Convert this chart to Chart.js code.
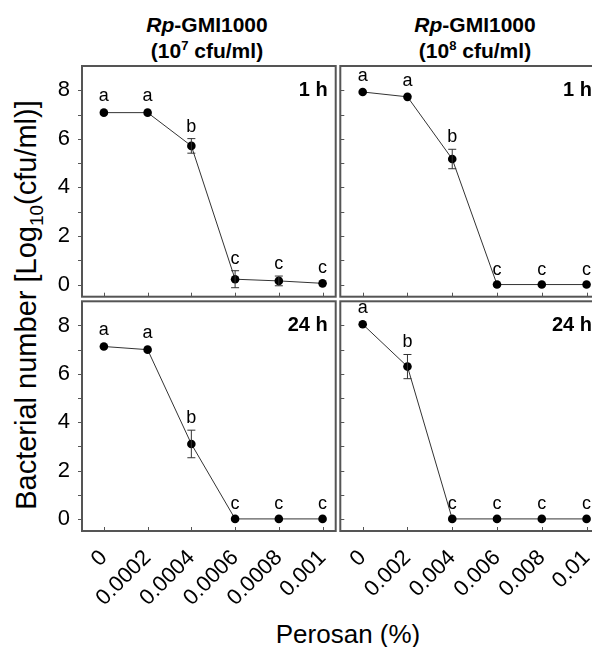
<!DOCTYPE html>
<html>
<head>
<meta charset="utf-8">
<script src="https://cdn.jsdelivr.net/npm/chart.js@4.4.0/dist/chart.umd.min.js"></script>
<style>
html, body { margin: 0; padding: 0; background: #fff; overflow: hidden; }
#fig { position: relative; width: 592px; height: 647px; overflow: hidden; font-family: "Liberation Sans", Arial, sans-serif; color: #000; }
#fig canvas { position: absolute; }
.coltitle { position: absolute; top: 12px; width: 240px; text-align: center; font-weight: bold; font-size: 21px; line-height: 26px; }
.coltitle sup { font-size: 13px; line-height: 0; }
#ytitle { position: absolute; left: -224px; top: 289px; width: 500px; height: 32px; line-height: 32px; font-size: 29px; text-align: center; transform: rotate(-90deg); white-space: nowrap; }
#ytitle sub { font-size: 19px; line-height: 0; }
#xtitle { position: absolute; left: 198px; top: 619px; width: 300px; line-height: 30px; font-size: 26px; text-align: center; }
</style>
</head>
<body>
<div id="fig">
  <div class="coltitle" style="left:87px"><i>Rp</i>-GMI1000<br>(10<sup>7</sup> cfu/ml)</div>
  <div class="coltitle" style="left:355px"><i>Rp</i>-GMI1000<br>(10<sup>8</sup> cfu/ml)</div>
  <div id="ytitle">Bacterial number [Log<sub>10</sub>(cfu/ml)]</div>
  <div id="xtitle">Perosan (%)</div>
  <canvas id="c1" width="340" height="241" style="left:0;top:60px"></canvas>
  <canvas id="c2" width="270" height="241" style="left:336px;top:60px"></canvas>
  <canvas id="c3" width="340" height="350" style="left:0;top:297px"></canvas>
  <canvas id="c4" width="270" height="350" style="left:336px;top:297px"></canvas>
</div>
<script>
// perosan concentrations (%)
const xLabelsLow = ['0', '0.0002', '0.0004', '0.0006', '0.0008', '0.001'];
const xLabelsHigh = ['0', '0.002', '0.004', '0.006', '0.008', '0.01'];
const yTicks = [0, 2, 4, 6, 8];

// log10 cfu/ml, 10^7 inoculum, 1 h
const low1h = [7.08, 7.08, 5.71, 0.22, 0.15, 0.05];
const low1hErr = [0.05, 0.05, 0.3, 0.35, 0.2, 0];
const low1hLetters = ['a', 'a', 'b', 'c', 'c', 'c'];

// 10^8 inoculum, 1 h
const high1h = [7.93, 7.73, 5.17, 0, 0, 0];
const high1hErr = [0.05, 0.05, 0.4, 0, 0, 0];
const high1hLetters = ['a', 'a', 'b', 'c', 'c', 'c'];

// 10^7 inoculum, 24 h
const low24h = [7.13, 7.0, 3.1, 0, 0, 0];
const low24hErr = [0.05, 0.05, 0.57, 0, 0, 0];
const low24hLetters = ['a', 'a', 'b', 'c', 'c', 'c'];

// 10^8 inoculum, 24 h
const high24h = [8.05, 6.3, 0, 0, 0, 0];
const high24hErr = [0.05, 0.5, 0, 0, 0, 0];
const high24hLetters = ['a', 'b', 'c', 'c', 'c', 'c'];

const FONT = '"Liberation Sans", Arial, sans-serif';

// frame, ticks, error bars, letters and time tag
const panelDecor = {
  id: 'panelDecor',
  afterDatasetsDraw(chart, args, o) {
    const { ctx, chartArea: a, scales: { x, y } } = chart;
    const vals = chart.data.datasets[0].data;
    ctx.save();

    // error bars
    ctx.strokeStyle = '#333';
    ctx.lineWidth = 1;
    vals.forEach((p, i) => {
      const e = o.errors[i];
      if (!e || e < 0.1) return;
      const px = x.getPixelForValue(p.x);
      const y1 = y.getPixelForValue(p.y + e), y2 = y.getPixelForValue(p.y - e);
      ctx.beginPath();
      ctx.moveTo(px, y1); ctx.lineTo(px, y2);
      ctx.moveTo(px - 4, y1); ctx.lineTo(px + 4, y1);
      ctx.moveTo(px - 4, y2); ctx.lineTo(px + 4, y2);
      ctx.stroke();
    });

    // significance letters
    ctx.fillStyle = '#000';
    ctx.font = '18px ' + FONT;
    ctx.textAlign = 'center';
    ctx.textBaseline = 'alphabetic';
    vals.forEach((p, i) => {
      const e = o.errors[i];
      const gap = e >= 0.1 ? 7 : 10;
      ctx.fillText(o.letters[i], x.getPixelForValue(p.x), y.getPixelForValue(p.y + e) - gap);
    });

    // time tag
    ctx.font = 'bold 20px ' + FONT;
    ctx.textAlign = 'right';
    ctx.fillText(o.time, a.right - 8, a.top + 30);

    // ticks
    ctx.strokeStyle = '#555';
    ctx.lineWidth = 1;
    ctx.beginPath();
    for (let v = 0; v <= 8; v++) {
      const py = Math.round(y.getPixelForValue(v)) + 0.5;
      if (o.outerTicks) { ctx.moveTo(a.left - 4, py); ctx.lineTo(a.left, py); }
      else { ctx.moveTo(a.left, py); ctx.lineTo(a.left + 4, py); }
    }
    for (let i = 0; i < 6; i++) {
      const px = Math.round(x.getPixelForValue(i)) + 0.5;
      ctx.moveTo(px, a.bottom); ctx.lineTo(px, a.bottom - 4);
    }
    ctx.stroke();

    // frame
    ctx.strokeStyle = '#555';
    ctx.lineWidth = 2;
    ctx.strokeRect(a.left, a.top, a.right - a.left, a.bottom - a.top);
    ctx.restore();
  }
};

function makePanel(id, values, errors, letters, labels, opt) {
  const data = values.map((v, i) => ({ x: i, y: v }));
  return new Chart(document.getElementById(id), {
    type: 'line',
    data: {
      datasets: [{
        data: data,
        borderColor: '#333',
        borderWidth: 1,
        pointRadius: 4.3,
        pointBackgroundColor: '#000',
        pointBorderColor: '#000',
        pointBorderWidth: 0,
        tension: 0
      }]
    },
    options: {
      responsive: false,
      animation: false,
      events: [],
      layout: { padding: opt.padding },
      plugins: {
        legend: { display: false },
        tooltip: { enabled: false },
        panelDecor: { errors: errors, letters: letters, time: opt.time, outerTicks: opt.showY }
      },
      scales: {
        x: {
          type: 'linear',
          min: -0.5,
          max: 5.3,
          display: opt.showX,
          grid: { display: false, drawTicks: false },
          border: { display: false },
          afterBuildTicks: s => { s.ticks = labels.map((l, i) => ({ value: i })); },
          afterFit: s => { s.height = opt.showX ? 116 : 0; s.paddingLeft = 0; s.paddingRight = 0; },
          ticks: {
            autoSkip: false,
            minRotation: 45,
            maxRotation: 45,
            padding: 14,
            color: '#000',
            font: { family: FONT, size: 22 },
            callback: v => labels[v]
          }
        },
        y: {
          type: 'linear',
          min: -0.5,
          max: 9,
          display: opt.showY,
          grid: { display: false, drawTicks: false },
          border: { display: false },
          afterBuildTicks: s => { s.ticks = yTicks.map(v => ({ value: v })); },
          afterFit: s => { s.width = opt.showY ? 82 : 0; s.paddingTop = 0; s.paddingBottom = 0; },
          ticks: {
            padding: 12,
            color: '#000',
            font: { family: FONT, size: 22 },
            callback: v => String(v)
          }
        }
      }
    },
    plugins: [panelDecor]
  });
}

makePanel('c1', low1h, low1hErr, low1hLetters, xLabelsLow,
  { showX: false, showY: true, time: '1 h', padding: { top: 6, right: 4, bottom: 2, left: 0 } });
makePanel('c2', high1h, high1hErr, high1hLetters, xLabelsHigh,
  { showX: false, showY: false, time: '1 h', padding: { top: 6, right: 6, bottom: 2, left: 2 } });
makePanel('c3', low24h, low24hErr, low24hLetters, xLabelsLow,
  { showX: true, showY: true, time: '24 h', padding: { top: 2, right: 4, bottom: 0, left: 0 } });
makePanel('c4', high24h, high24hErr, high24hLetters, xLabelsHigh,
  { showX: true, showY: false, time: '24 h', padding: { top: 2, right: 6, bottom: 0, left: 2 } });
</script>
</body>
</html>
